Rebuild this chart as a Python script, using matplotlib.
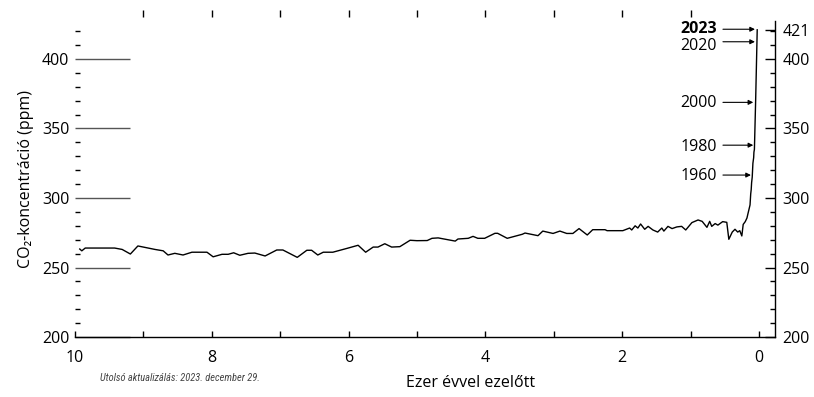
import matplotlib
matplotlib.use('Agg')
import matplotlib.pyplot as plt
from matplotlib import font_manager
from matplotlib.ticker import MultipleLocator, FixedLocator

plt.rcParams['font.family'] = ['Open Sans', 'DejaVu Sans']

# ezer évvel ezelőtt / CO2 ppm
ka = [9.93, 9.90, 9.85, 9.42, 9.31, 9.19, 9.08, 8.83, 8.71, 8.64, 8.54, 8.42, 8.29,
      8.07, 7.98, 7.85, 7.76, 7.68, 7.59, 7.47, 7.37, 7.22, 7.05, 6.96, 6.75, 6.61,
      6.54, 6.45, 6.37, 6.23, 6.02, 5.86, 5.75, 5.64, 5.57, 5.47, 5.37, 5.25, 5.10,
      5.00, 4.85, 4.78, 4.69, 4.44, 4.40, 4.25, 4.18, 4.11, 4.01, 3.86, 3.82, 3.68,
      3.46, 3.42, 3.23, 3.16, 3.01, 2.91, 2.81, 2.72, 2.63, 2.51, 2.43, 2.25, 2.22,
      1.99, 1.89, 1.86, 1.81, 1.77, 1.73, 1.67, 1.62, 1.55, 1.48, 1.42, 1.39, 1.33,
      1.27, 1.20, 1.13, 1.07, 0.98, 0.89, 0.83, 0.76, 0.72, 0.69, 0.64, 0.60, 0.53,
      0.47, 0.44, 0.39, 0.35, 0.31, 0.28, 0.25, 0.23, 0.20, 0.175, 0.16, 0.13, 0.12,
      0.113, 0.107, 0.098, 0.088, 0.077, 0.073, 0.066, 0.048, 0.029, 0.025]
co2 = [263.3, 262, 264, 264, 263, 259.7, 265.5, 263, 262, 259, 260.2, 259, 261,
       261, 257.7, 259.5, 259.5, 260.6, 258.8, 260.2, 260.4, 258.3, 262.6, 262.6, 257.3, 262.4,
       262.4, 259, 261, 261, 263.8, 266, 261, 264.7, 264.7, 267.1, 264.7, 265, 269.6,
       269.3, 269.4, 271, 271.3, 269, 270.5, 271, 272.4, 271, 271, 274.6, 274.6, 271,
       273.9, 274.8, 272.9, 276.2, 274.5, 276.2, 274.5, 274.5, 278, 273.4, 277.2, 277.2, 276.5,
       276.5, 278.4, 277, 280, 278.4, 281.3, 277.5, 279.6, 277, 275.5, 278.4, 276.2, 279.6,
       278, 279.2, 279.6, 277, 282.3, 284.2, 283.2, 278.9, 283.2, 279.6, 281.6, 280.5, 283,
       282.5, 270.3, 275.5, 277.5, 275.5, 276.5, 272.7, 281, 283, 285.6, 288.8, 295, 303,
       306, 311, 315, 325, 329, 333, 335, 370, 412, 421]

years = ['2023', '2020', '2000', '1980', '1960']
label_y = [421.6, 409, 368.3, 336.7, 315.5]
arrow_y = [421.4, 412.4, 368.8, 338, 316.5]
arrow_x = [0.058, 0.058, 0.083, 0.083, 0.117]

fig = plt.figure(figsize=(8.14, 3.97), dpi=100)
ax = fig.add_axes([0.0921, 0.1511, 0.8599, 0.7959])
ax.plot(ka, co2, color='black', lw=1.0)
ax.set_xlim(10, -0.234)
ax.set_ylim(200, 427.3)

for s in ['left', 'top', 'right']:
    ax.spines[s].set_visible(False)
ax.spines['bottom'].set_linewidth(1.0)

ax.xaxis.set_major_locator(FixedLocator([10, 8, 6, 4, 2, 0]))
ax.xaxis.set_minor_locator(FixedLocator([9, 7, 5, 3, 1]))
ax.tick_params(axis='x', which='both', direction='in', length=4.3, width=1.0,
               labelsize=11.5, pad=9)
ax.yaxis.set_major_locator(MultipleLocator(50))
ax.yaxis.set_minor_locator(MultipleLocator(10))
ax.tick_params(axis='y', which='major', direction='in', length=39.6, width=1.0,
               color='#555555', labelsize=11.5, pad=4)
ax.tick_params(axis='y', which='minor', direction='in', length=3.6, width=1.0,
               color='black')
ax.set_ylabel('CO₂-koncentráció (ppm)', fontsize=11.5, labelpad=6)
ax.set_xlabel('Ezer évvel ezelőtt', fontsize=11.5)
ax.xaxis.set_label_coords(0.565, -0.12)

# jobb oldali tengely
ax2 = ax.twinx()
ax2.set_ylim(ax.get_ylim())
for s in ['left', 'top', 'bottom']:
    ax2.spines[s].set_visible(False)
ax2.spines['right'].set_linewidth(1.0)
ax2.yaxis.set_major_locator(FixedLocator([200, 250, 300, 350, 400, 421]))
ax2.yaxis.set_minor_locator(MultipleLocator(10))
ax2.tick_params(axis='y', which='major', direction='in', length=7.2, width=1.0,
                labelsize=11.5, pad=5.5)
ax2.tick_params(axis='y', which='minor', direction='in', length=3.6, width=1.0)

# felső osztások
top = ax.secondary_xaxis(1.0127, functions=(lambda x: x, lambda x: x))
top.spines['top'].set_visible(False)
top.xaxis.set_major_locator(FixedLocator([9, 8, 7, 6, 5, 4, 3, 2, 1]))
top.tick_params(axis='x', direction='out', length=5, width=1.0, labeltop=False)

for yr, ly, ay, axx in zip(years, label_y, arrow_y, arrow_x):
    ax.text(0.614, ly, yr, ha='right', va='center', fontsize=11.5,
            fontweight='bold' if yr == '2023' else 'normal')
    ax.annotate('', xy=(axx, ay), xytext=(0.526, ay),
                arrowprops=dict(arrowstyle='-|>', color='black', lw=0.8,
                                mutation_scale=7, shrinkA=0, shrinkB=0))

# keskeny betűtípus a lábjegyzethez, ha van
names = {f.name for f in font_manager.fontManager.ttflist}
note_font, note_size = 'DejaVu Sans', 6.3
for cand in ['Roboto Condensed', 'Open Sans Condensed', 'Liberation Sans Narrow',
             'DejaVu Sans Condensed']:
    if cand in names:
        note_font, note_size = cand, 7.5
        break
fig.text(100 / 814, 1 - 378 / 397, 'Utolsó aktualizálás: 2023. december 29.',
         family=[note_font, 'DejaVu Sans'], style='italic',
         fontsize=note_size, color='#444444', va='center', ha='left')

fig.savefig('out.png', dpi=100)
